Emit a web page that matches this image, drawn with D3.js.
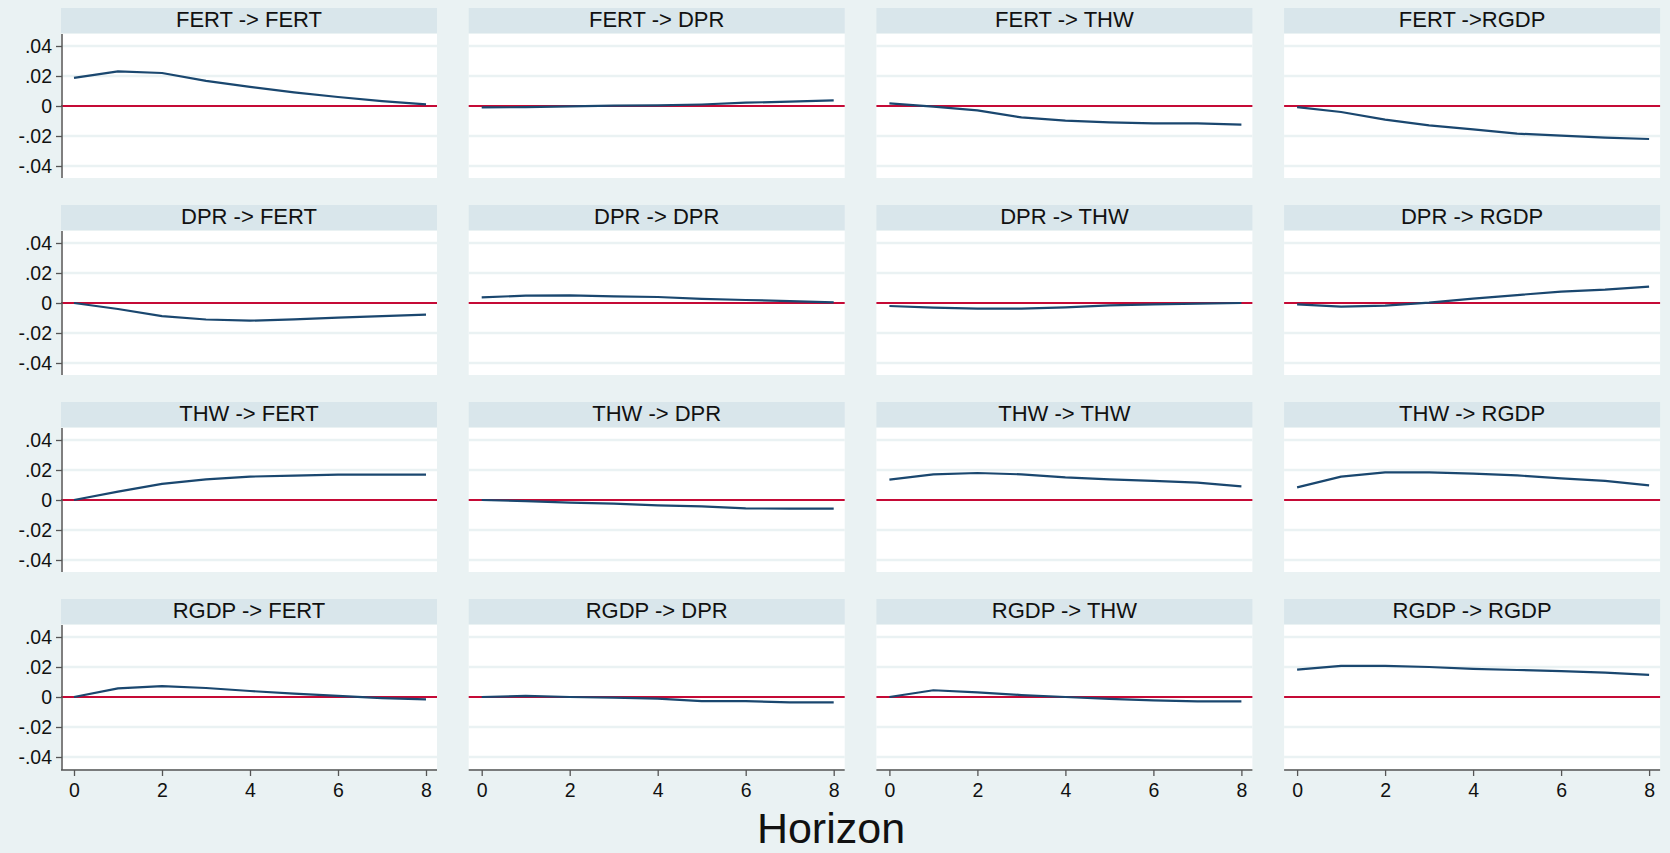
<!DOCTYPE html>
<html>
<head>
<meta charset="utf-8">
<script src="https://cdn.jsdelivr.net/npm/d3@7/dist/d3.min.js"></script>
<style>
  html, body { margin: 0; padding: 0; background: #eaf2f3; }
  svg { display: block; }
  text { font-family: "Liberation Sans", Arial, sans-serif; }
</style>
</head>
<body>
<svg id="chart" width="1670" height="853"></svg>
<script>
// ---------------- data ----------------
const horizon = [0, 1, 2, 3, 4, 5, 6, 7, 8];
const xTicks = [0, 2, 4, 6, 8];
const yTicks = [0.04, 0.02, 0, -0.02, -0.04];
const yTickLabels = [".04", ".02", "0", "-.02", "-.04"];

const panelTitles = [
  "FERT -> FERT", "FERT -> DPR", "FERT -> THW", "FERT ->RGDP",
  "DPR -> FERT", "DPR -> DPR", "DPR -> THW", "DPR -> RGDP",
  "THW -> FERT", "THW -> DPR", "THW -> THW", "THW -> RGDP",
  "RGDP -> FERT", "RGDP -> DPR", "RGDP -> THW", "RGDP -> RGDP"
];

const fertFert = [0.0187, 0.0231, 0.0220, 0.0167, 0.0127, 0.0091, 0.0060, 0.0033, 0.0011];
const fertDpr  = [-0.0009, -0.0008, -0.0002, 0.0002, 0.0004, 0.0010, 0.0022, 0.0029, 0.0038];
const fertThw  = [0.0018, -0.0004, -0.0029, -0.0076, -0.0098, -0.0109, -0.0116, -0.0116, -0.0124];
const fertRgdp = [-0.0007, -0.0040, -0.0091, -0.0129, -0.0156, -0.0184, -0.0198, -0.0211, -0.0220];

const dprFert = [0.0000, -0.0040, -0.0087, -0.0110, -0.0118, -0.0109, -0.0098, -0.0087, -0.0078];
const dprDpr  = [0.0038, 0.0049, 0.0051, 0.0044, 0.0040, 0.0027, 0.0020, 0.0013, 0.0004];
const dprThw  = [-0.0020, -0.0031, -0.0038, -0.0038, -0.0029, -0.0016, -0.0009, -0.0004, 0.0000];
const dprRgdp = [-0.0009, -0.0024, -0.0018, 0.0002, 0.0029, 0.0053, 0.0076, 0.0089, 0.0109];

const thwFert = [0.0000, 0.0056, 0.0107, 0.0138, 0.0156, 0.0162, 0.0169, 0.0169, 0.0169];
const thwDpr  = [0.0000, -0.0007, -0.0018, -0.0024, -0.0036, -0.0042, -0.0056, -0.0058, -0.0058];
const thwThw  = [0.0136, 0.0171, 0.0180, 0.0171, 0.0151, 0.0138, 0.0127, 0.0116, 0.0091];
const thwRgdp = [0.0084, 0.0156, 0.0184, 0.0184, 0.0176, 0.0164, 0.0144, 0.0127, 0.0098];

const rgdpFert = [0.0000, 0.0058, 0.0072, 0.0060, 0.0040, 0.0022, 0.0007, -0.0007, -0.0016];
const rgdpDpr  = [0.0000, 0.0007, 0.0000, -0.0004, -0.0011, -0.0027, -0.0027, -0.0036, -0.0036];
const rgdpThw  = [0.0000, 0.0045, 0.0031, 0.0013, 0.0000, -0.0013, -0.0022, -0.0029, -0.0029];
const rgdpRgdp = [0.0182, 0.0207, 0.0207, 0.0200, 0.0187, 0.0180, 0.0173, 0.0162, 0.0148];

const panelSeries = [
  fertFert, fertDpr, fertThw, fertRgdp,
  dprFert, dprDpr, dprThw, dprRgdp,
  thwFert, thwDpr, thwThw, thwRgdp,
  rgdpFert, rgdpDpr, rgdpThw, rgdpRgdp
];

// ---------------- layout ----------------
const svg = d3.select("#chart");
const bg = "#eaf2f3";
svg.append("rect").attr("width", 1670).attr("height", 853).attr("fill", bg);

const colLeft0 = 61, colPitch = 407.7, panelW = 376;
const rowTop0 = 8, rowPitch = 197;
const headerH = 25, plotTopOff = 26, plotBotOff = 170;
const lineColor = "#1a476f", zeroColor = "#c50a36", axisColor = "#555";

panelSeries.forEach((vals, i) => {
  const r = Math.floor(i / 4), c = i % 4;
  const left = colLeft0 + c * colPitch;
  const top = rowTop0 + r * rowPitch;
  const pTop = top + plotTopOff, pBot = top + plotBotOff;

  const x = d3.scaleLinear().domain([0, 8]).range([left + 13, left + 365]);
  const y = d3.scaleLinear().domain([-0.048, 0.048]).range([pBot, pTop]);

  const g = svg.append("g");

  // header strip
  g.append("rect").attr("x", left).attr("y", top).attr("width", panelW).attr("height", headerH)
    .attr("fill", "#d9e6eb");
  g.append("text").attr("x", left + panelW / 2).attr("y", top + headerH / 2 + 1)
    .attr("text-anchor", "middle").attr("dominant-baseline", "middle")
    .attr("font-size", 22).attr("fill", "#111").text(panelTitles[i]);

  // plot region
  g.append("rect").attr("x", left).attr("y", pTop).attr("width", panelW).attr("height", pBot - pTop)
    .attr("fill", "#ffffff");

  // gridlines
  g.selectAll(".grid").data(yTicks.filter(t => t !== 0)).enter().append("line")
    .attr("x1", left).attr("x2", left + panelW)
    .attr("y1", d => y(d)).attr("y2", d => y(d))
    .attr("stroke", bg).attr("stroke-width", 2.5);

  // zero line
  g.append("line").attr("x1", left).attr("x2", left + panelW)
    .attr("y1", y(0)).attr("y2", y(0))
    .attr("stroke", zeroColor).attr("stroke-width", 2);

  // response line
  const line = d3.line().x((d, k) => x(horizon[k])).y(d => y(d)).curve(d3.curveLinear);
  g.append("path").datum(vals).attr("d", line)
    .attr("fill", "none").attr("stroke", lineColor).attr("stroke-width", 2.2)
    .attr("stroke-linejoin", "round");

  // y axis on first column
  if (c === 0) {
    const yAxis = d3.axisLeft(y).tickValues(yTicks)
      .tickFormat((d, k) => yTickLabels[k]).tickSize(6).tickPadding(4);
    const ga = svg.append("g").attr("transform", `translate(${left + 1},0)`).call(yAxis);
    ga.select(".domain").attr("stroke", axisColor).attr("stroke-width", 1.5)
      .attr("d", `M0,${pTop}V${pBot + (r === 3 ? 1 : 0)}`);
    ga.selectAll(".tick line").attr("stroke", axisColor).attr("stroke-width", 1.3);
    ga.selectAll(".tick text").attr("font-size", 19.5).attr("fill", "#111")
      .attr("font-family", "Liberation Sans, Arial, sans-serif");
  }

  // x axis on bottom row
  if (r === 3) {
    const xAxis = d3.axisBottom(x).tickValues(xTicks).tickFormat(d3.format("d"))
      .tickSize(6).tickPadding(7);
    const gx = svg.append("g").attr("transform", `translate(0,${pBot + 1})`).call(xAxis);
    gx.select(".domain").attr("stroke", axisColor).attr("stroke-width", 1.5)
      .attr("d", `M${left},0H${left + panelW}`);
    gx.selectAll(".tick line").attr("stroke", axisColor).attr("stroke-width", 1.3);
    gx.selectAll(".tick text").attr("font-size", 19.5).attr("fill", "#111")
      .attr("font-family", "Liberation Sans, Arial, sans-serif");
  }
});

// x-axis title
svg.append("text").attr("x", 831).attr("y", 843).attr("text-anchor", "middle")
  .attr("font-size", 43).attr("fill", "#111").text("Horizon");
</script>
</body>
</html>
